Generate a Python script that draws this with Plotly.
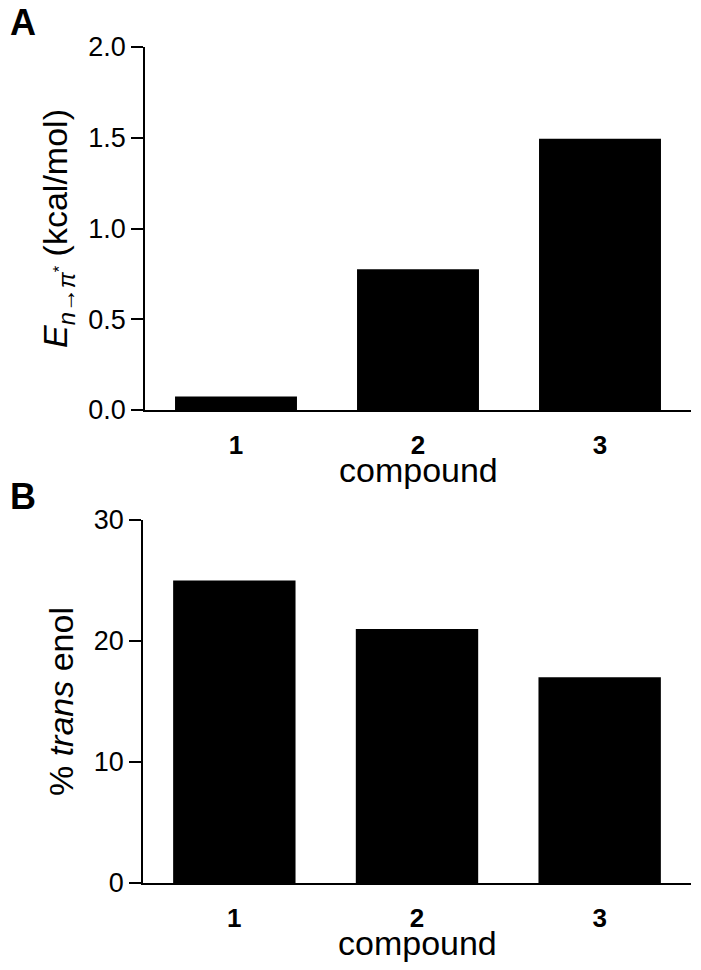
import plotly.graph_objs as go

# data
compounds = ['1', '2', '3']
e_n_pi = [0.075, 0.775, 1.495]      # kcal/mol, panel A
trans_enol = [25.0, 21.0, 17.0]     # %, panel B

FONT = 'Liberation Sans, Arial, sans-serif'
W, H = 685, 954   # page body adds an 8px margin around the figure


def px(x):
    return x / W


def py_(y):
    return 1 - y / H


bar_a = go.Bar(x=compounds, y=e_n_pi, marker=dict(color='black', line=dict(width=0)),
               xaxis='x', yaxis='y', showlegend=False)
bar_b = go.Bar(x=compounds, y=trans_enol, marker=dict(color='black', line=dict(width=0)),
               xaxis='x2', yaxis='y2', showlegend=False)


def xaxis_style(anchor, dom):
    return dict(domain=dom, anchor=anchor, type='category', range=[-0.5, 2.5],
                automargin=False,
                showline=True, linecolor='black', linewidth=1.5, ticks='',
                showgrid=False, zeroline=False,
                tickfont=dict(family=FONT, size=26, color='black', weight='bold'),
                ticklabelstandoff=11)


def yaxis_style(anchor, dom, rng, dtick, fmt, title):
    return dict(domain=dom, anchor=anchor, range=rng, dtick=dtick, tickformat=fmt,
                automargin=False,
                showline=True, linecolor='black', linewidth=1.5,
                ticks='outside', ticklen=12, tickwidth=1.5, tickcolor='black',
                showgrid=False, zeroline=False,
                tickfont=dict(family=FONT, size=27, color='black'),
                title=dict(text=title, font=dict(family=FONT, size=34, color='black'),
                           standoff=10))


def label(text, x, y, size):
    return dict(text=text, x=px(x), y=py_(y), xref='paper', yref='paper',
                xanchor='center', yanchor='middle', showarrow=False,
                font=dict(family=FONT, size=size, color='black'))


xdom_a = [px(137), px(683)]
xdom_b = [px(135), px(683)]

layout = go.Layout(
    width=W, height=H,
    margin=dict(l=0, r=0, t=0, b=0),
    plot_bgcolor='white', paper_bgcolor='white',
    bargap=0.33,
    xaxis=xaxis_style('y', xdom_a),
    yaxis=yaxis_style('x', [py_(402), py_(39)], [0, 2], 0.5, '.1f',
                      '<i>E</i><sub><i>n→π</i><sup>*</sup></sub> (kcal/mol)'),
    xaxis2=xaxis_style('y2', xdom_b),
    yaxis2=yaxis_style('x2', [py_(875), py_(512)], [0, 30], 10, 'd',
                       '% <i>trans</i> enol'),
    annotations=[
        label('<b>A</b>', 15, 14, 36),
        label('<b>B</b>', 15, 488, 36),
        label('compound', (137 + 683) / 2, 462, 34),
        label('compound', (135 + 683) / 2, 935, 34),
    ],
)

fig = go.Figure(data=[bar_a, bar_b], layout=layout)
fig.write_html('out.html')
